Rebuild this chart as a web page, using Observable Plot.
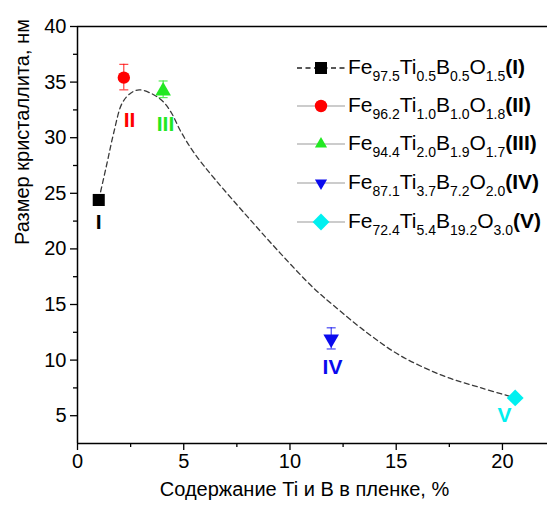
<!DOCTYPE html>
<html>
<head>
<meta charset="utf-8">
<script src="https://cdn.jsdelivr.net/npm/d3@7"></script>
<script src="https://cdn.jsdelivr.net/npm/@observablehq/plot@0.6"></script>
<style>
  html, body { margin: 0; padding: 0; background: #fff; }
  #wrap { position: relative; width: 547px; height: 505px; font-family: "Liberation Sans", Arial, sans-serif; }
  #legend { position: absolute; left: 0; top: 0; }
  .row { position: absolute; left: 296px; height: 26px; display: flex; align-items: center; white-space: nowrap; font-size: 21px; color: #000; }
  .row svg { display: block; }
  .row .txt { margin-left: 2px; line-height: 26px; }
  .row sub { font-size: 14px; vertical-align: baseline; position: relative; top: 7px; }
  .row b { font-weight: bold; }
</style>
</head>
<body>
<div id="wrap"><div id="legend"></div></div>
<script>
// ---- data ----
const names = ["I", "II", "III", "IV", "V"];
const xVals = [1.0, 2.18, 4.03, 11.94, 20.6];
const yVals = [24.4, 35.4, 34.2, 11.9, 6.6];
const errLo = [null, 34.3, 33.6, 11.0, null];
const errHi = [null, 36.6, 35.1, 12.9, null];
const colors = ["#000000", "#ff0000", "#22e822", "#0a0aee", "#00f0f0"];
const symbols = ["square", "circle", "triangle", "triangle", "diamond2"];
const labelX = [1.0, 2.45, 4.14, 12.0, 20.1];
const labelY = [22.4, 31.6, 31.2, 9.4, 5.05];

const curveX = [1.0, 1.4, 1.7, 2.1, 2.5, 2.9, 3.5, 4.0, 4.4, 4.85, 5.5, 6.5, 8.0, 9.55, 11.1, 12.0, 13.6, 15.2, 17.2, 19.0, 20.6];
const curveY = [24.4, 27.8, 30.4, 33.1, 34.0, 34.3, 33.95, 33.3, 32.3, 30.6, 28.6, 26.2, 22.9, 19.6, 16.5, 15.0, 12.5, 10.4, 8.6, 7.5, 6.6];

const xTicks = [0, 5, 10, 15, 20];
const xMinor = [2.5, 7.5, 12.5, 17.5];
const yTicks = [5, 10, 15, 20, 25, 30, 35, 40];
const yMinor = [7.5, 12.5, 17.5, 22.5, 27.5, 32.5, 37.5];

const formulas = [
  [["Fe", "97.5"], ["Ti", "0.5"], ["B", "0.5"], ["O", "1.5"]],
  [["Fe", "96.2"], ["Ti", "1.0"], ["B", "1.0"], ["O", "1.8"]],
  [["Fe", "94.4"], ["Ti", "2.0"], ["B", "1.9"], ["O", "1.7"]],
  [["Fe", "87.1"], ["Ti", "3.7"], ["B", "7.2"], ["O", "2.0"]],
  [["Fe", "72.4"], ["Ti", "5.4"], ["B", "19.2"], ["O", "3.0"]]
];
const xTitle = "Содержание Ti и B в пленке, %";
const yTitle = "Размер кристаллита, нм";

// ---- build tables ----
const points = names.map((n, i) => ({name: n, x: xVals[i], y: yVals[i], lo: errLo[i], hi: errHi[i], color: colors[i], symbol: symbols[i], rotate: i === 3 ? 180 : 0, lx: labelX[i], ly: labelY[i]}));
const curve = curveX.map((x, i) => ({x, y: curveY[i]}));
const errs = points.filter(d => d.lo != null);
const capSymbol = { draw(ctx) { ctx.moveTo(-4.5, 0); ctx.lineTo(4.5, 0); } };
const rFor = {square: 6.8, circle: 6.2, triangle: 5.8, diamond2: 7.6};

const marks = [
  Plot.axisX({ticks: xTicks, tickSize: 7, tickPadding: 3, fontSize: 20, label: null, strokeWidth: 1.3}),
  Plot.axisX({ticks: xMinor, tickSize: 4, tickFormat: () => "", label: null, strokeWidth: 1.3}),
  Plot.axisY({ticks: yTicks, tickSize: 7, tickPadding: 4, fontSize: 20, label: null, strokeWidth: 1.3}),
  Plot.axisY({ticks: yMinor, tickSize: 4, tickFormat: () => "", label: null, strokeWidth: 1.3}),
  Plot.ruleY([40], {stroke: "#000", strokeWidth: 1.5}),
  Plot.ruleY([2.5], {stroke: "#000", strokeWidth: 1.5}),
  Plot.ruleX([0], {stroke: "#000", strokeWidth: 1.5}),
  Plot.line(curve, {x: "x", y: "y", curve: "catmull-rom", stroke: "#3a3a3a", strokeWidth: 1.3, strokeDasharray: "5,3.5"}),
  Plot.ruleX(errs, {x: "x", y1: "lo", y2: "hi", stroke: "color", strokeWidth: 0.9}),
  Plot.dot(errs, {x: "x", y: "lo", symbol: capSymbol, stroke: "color", strokeWidth: 0.9, r: 4}),
  Plot.dot(errs, {x: "x", y: "hi", symbol: capSymbol, stroke: "color", strokeWidth: 0.9, r: 4}),
  ...points.map(p => Plot.dot([p], {x: "x", y: "y", symbol: p.symbol, fill: p.color, stroke: "none", r: rFor[p.symbol], rotate: p.rotate})),
  Plot.text(points, {x: "lx", y: "ly", text: "name", fill: "color", fontSize: 21, fontWeight: "bold", fontFamily: "Liberation Sans, Arial, sans-serif"}),
  Plot.text([xTitle], {frameAnchor: "bottom", dx: -8, dy: 52, fontSize: 20, fill: "#000"}),
  Plot.text([yTitle], {frameAnchor: "left", rotate: -90, dx: -55, dy: 10, fontSize: 20, fill: "#000"})
];

const chart = Plot.plot({
  width: 547,
  height: 505,
  marginLeft: 77,
  marginRight: 0,
  marginTop: 26,
  marginBottom: 62,
  x: {domain: [0, 22.12]},
  y: {domain: [2.5, 40]},
  style: {fontFamily: "Liberation Sans, Arial, sans-serif", fontSize: "20px", color: "#000", background: "#fff", overflow: "visible"},
  marks
});
document.getElementById("wrap").insertBefore(chart, document.getElementById("legend"));

// ---- legend (HTML overlay) ----
const legend = document.getElementById("legend");
const rowCenters = [68, 106, 144, 183, 222];
points.forEach((p, i) => {
  const row = document.createElement("div");
  row.className = "row";
  row.style.top = (rowCenters[i] - 13) + "px";
  const sw = d3.create("svg").attr("width", 50).attr("height", 26);
  sw.append("line").attr("x1", 1).attr("x2", 49).attr("y1", 13).attr("y2", 13)
    .attr("stroke", i === 0 ? "#222" : "#9a9a9a").attr("stroke-width", i === 0 ? 1.3 : 1.2)
    .attr("stroke-dasharray", i === 0 ? "5,3.5" : null);
  const sym = {square: d3.symbolSquare, circle: d3.symbolCircle, triangle: d3.symbolTriangle2, diamond2: d3.symbolDiamond2}[p.symbol];
  const r = rFor[p.symbol];
  sw.append("path").attr("d", d3.symbol(sym, Math.PI * r * r)())
    .attr("transform", `translate(25,13) rotate(${p.rotate})`).attr("fill", p.color);
  row.appendChild(sw.node());
  const txt = document.createElement("span");
  txt.className = "txt";
  txt.innerHTML = formulas[i].map(([el, sub]) => `${el}<sub>${sub}</sub>`).join("") + `<b>(${p.name})</b>`;
  row.appendChild(txt);
  legend.appendChild(row);
});
</script>
</body>
</html>
